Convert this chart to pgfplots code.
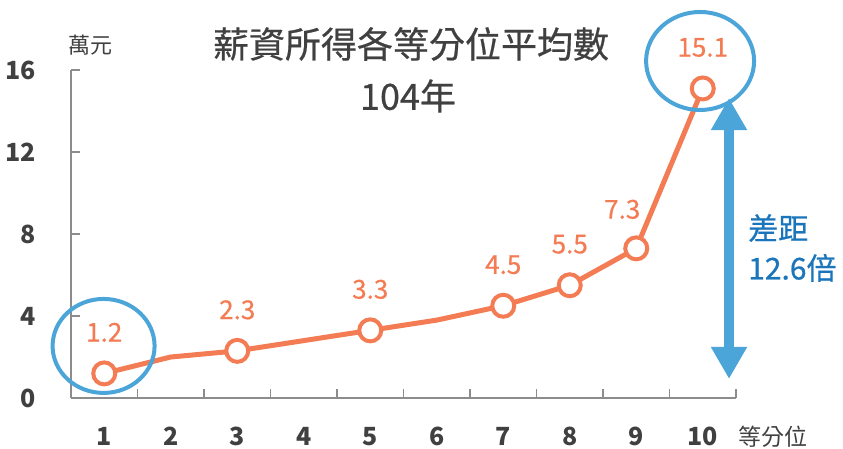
\documentclass[border=0pt]{standalone}
\usepackage{fontspec}
\setmainfont{Noto Sans CJK TC}
\newfontfamily\medfont[FakeBold=0.6]{Noto Sans CJK TC}
\usepackage{pgfplots}
\pgfplotsset{compat=1.18}
\usetikzlibrary{arrows.meta}

\definecolor{lineOrange}{RGB}{243,124,84}
\definecolor{ringBlue}{RGB}{75,165,216}
\definecolor{noteBlue}{RGB}{27,117,187}
\definecolor{labelGray}{RGB}{64,64,64}
\definecolor{axisGray}{RGB}{140,140,140}

\begin{document}
\begin{tikzpicture}
% page = 843 x 448 px, 1pt per px, origin at the axis' lower left corner
\path[use as bounding box] (-71pt,-50pt) rectangle (772pt,398pt);
\begin{axis}[
    at={(0pt,0pt)}, anchor=south west,
    scale only axis, width=665pt, height=328pt,
    xmin=0.5, xmax=10.5, ymin=0, ymax=16,
    axis lines=left,
    axis line style={-, draw=axisGray, line width=1.5pt},
    xtick={1,...,10},
    minor xtick={0.5,1.5,...,10.5},
    ytick={0,4,8,12,16},
    tick align=inside,
    major tick length=9pt, minor tick length=9pt,
    major x tick style={draw=none},
    minor x tick style={draw=axisGray, line width=1.5pt},
    major y tick style={draw=axisGray, line width=1.5pt},
    tick label style={font=\fontsize{25}{30}\selectfont\bfseries, text=labelGray},
    /pgf/number format/assume math mode=true,
    yticklabel style={anchor=east, inner sep=0pt, xshift=-35pt},
    xticklabel style={anchor=north, inner sep=0pt, yshift=-29pt},
    clip=false,
]
% all ten deciles
\addplot[lineOrange, line width=5pt, line join=round] coordinates {
    (1,1.2) (2,2.0) (3,2.3) (4,2.8) (5,3.3) (6,3.8) (7,4.5) (8,5.5) (9,7.3) (10,15.1)};
% marked deciles with value labels
\addplot[only marks, mark=*, mark size=11pt,
    mark options={draw=lineOrange, fill=white, line width=4pt},
    point meta=explicit symbolic, nodes near coords,
    every node near coord/.append style={font=\medfont\fontsize{26}{30}\selectfont,
        text=lineOrange, anchor=center, yshift=41pt}]
    coordinates {(1,1.2)[1.2] (3,2.3)[2.3] (5,3.3)[3.3] (7,4.5)[4.5] (8,5.5)[5.5] (10,15.1)[15.1]};
\addplot[only marks, mark=*, mark size=11pt,
    mark options={draw=lineOrange, fill=white, line width=4pt},
    point meta=explicit symbolic, nodes near coords,
    every node near coord/.append style={font=\medfont\fontsize{26}{30}\selectfont,
        text=lineOrange, anchor=center, yshift=39pt, xshift=-14pt}]
    coordinates {(9,7.3)[7.3]};

% highlight rings and the gap arrow
\draw[ringBlue, line width=4pt] (axis cs:0.99,2.54) ellipse [x radius=51pt, y radius=47pt];
\draw[ringBlue, line width=4pt] (axis cs:9.96,16.44) ellipse [x radius=54pt, y radius=49pt];
\draw[ringBlue, line width=10pt,
    {Triangle[width=34pt,length=32pt]}-{Triangle[width=34pt,length=32pt]}]
    (axis cs:10.395,0.93) -- (axis cs:10.395,14.63);
\end{axis}

\node[font=\medfont\fontsize{36}{40}\selectfont, text=labelGray] at (340pt,354pt) {薪資所得各等分位平均數};
\node[font=\medfont\fontsize{36}{40}\selectfont, text=labelGray] at (337pt,302pt) {104年};
\node[font=\fontsize{22}{26}\selectfont, text=labelGray] at (19pt,353pt) {萬元};
\node[font=\fontsize{23}{26}\selectfont, text=labelGray] at (702pt,-39pt) {等分位};
\node[anchor=west, align=left, inner sep=0pt, text=noteBlue,
    font=\medfont\fontsize{30}{40}\selectfont] at (677pt,150pt) {差距\\12.6倍};
\end{tikzpicture}
\end{document}
